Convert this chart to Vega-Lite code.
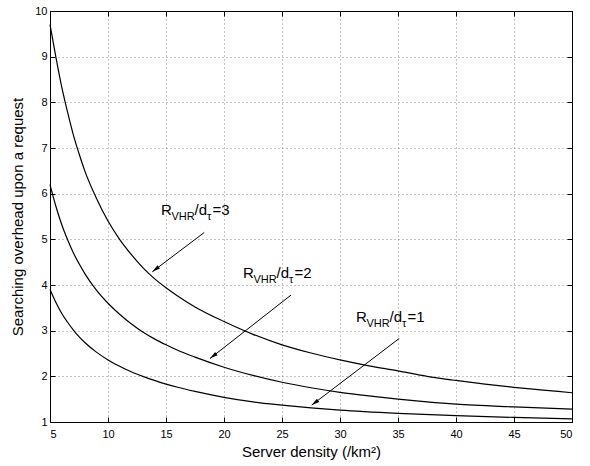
{
  "$schema": "https://vega.github.io/schema/vega-lite/v6.json",
  "width": 522,
  "height": 411,
  "autosize": {"type": "none"},
  "padding": {"left": 50, "top": 11, "right": 18, "bottom": 44},
  "background": "white",
  "config": {
    "font": "Liberation Sans",
    "view": {"stroke": "black", "strokeWidth": 1},
    "axis": {
      "domainColor": "black",
      "domainWidth": 1,
      "tickColor": "black",
      "tickSize": -5,
      "labelColor": "black",
      "labelFontSize": 11,
      "titleColor": "black",
      "titleFontSize": 15,
      "titleFontWeight": "normal",
      "gridColor": "#888888",
      "gridDash": [1, 3],
      "gridOpacity": 1
    }
  },
  "datasets": {
    "curves": [
      {"s": "3", "x": 5, "y": 9.7}, {"s": "3", "x": 5.5, "y": 9.0}, {"s": "3", "x": 6, "y": 8.35}, {"s": "3", "x": 6.5, "y": 7.8},
      {"s": "3", "x": 7, "y": 7.3}, {"s": "3", "x": 7.5, "y": 6.88}, {"s": "3", "x": 8, "y": 6.5}, {"s": "3", "x": 9, "y": 5.9},
      {"s": "3", "x": 10, "y": 5.4}, {"s": "3", "x": 11, "y": 5.0}, {"s": "3", "x": 12, "y": 4.67}, {"s": "3", "x": 13, "y": 4.38},
      {"s": "3", "x": 14, "y": 4.14}, {"s": "3", "x": 15, "y": 3.94}, {"s": "3", "x": 16, "y": 3.76}, {"s": "3", "x": 17.5, "y": 3.52},
      {"s": "3", "x": 20, "y": 3.2}, {"s": "3", "x": 22.5, "y": 2.92}, {"s": "3", "x": 25, "y": 2.69}, {"s": "3", "x": 27.5, "y": 2.51},
      {"s": "3", "x": 30, "y": 2.36}, {"s": "3", "x": 32.5, "y": 2.23}, {"s": "3", "x": 35, "y": 2.12}, {"s": "3", "x": 37.5, "y": 2.0},
      {"s": "3", "x": 40, "y": 1.91}, {"s": "3", "x": 42.5, "y": 1.83}, {"s": "3", "x": 45, "y": 1.76}, {"s": "3", "x": 47.5, "y": 1.7},
      {"s": "3", "x": 50, "y": 1.64},
      {"s": "2", "x": 5, "y": 6.2}, {"s": "2", "x": 5.5, "y": 5.73}, {"s": "2", "x": 6, "y": 5.33}, {"s": "2", "x": 6.5, "y": 5.0},
      {"s": "2", "x": 7, "y": 4.71}, {"s": "2", "x": 7.5, "y": 4.47}, {"s": "2", "x": 8, "y": 4.25}, {"s": "2", "x": 9, "y": 3.89},
      {"s": "2", "x": 10, "y": 3.6}, {"s": "2", "x": 11, "y": 3.36}, {"s": "2", "x": 12, "y": 3.15}, {"s": "2", "x": 13, "y": 2.97},
      {"s": "2", "x": 14, "y": 2.82}, {"s": "2", "x": 15, "y": 2.69}, {"s": "2", "x": 16, "y": 2.57}, {"s": "2", "x": 17.5, "y": 2.42},
      {"s": "2", "x": 20, "y": 2.2}, {"s": "2", "x": 22.5, "y": 2.02}, {"s": "2", "x": 25, "y": 1.87}, {"s": "2", "x": 27.5, "y": 1.75},
      {"s": "2", "x": 30, "y": 1.65}, {"s": "2", "x": 32.5, "y": 1.57}, {"s": "2", "x": 35, "y": 1.5}, {"s": "2", "x": 37.5, "y": 1.44},
      {"s": "2", "x": 40, "y": 1.39}, {"s": "2", "x": 45, "y": 1.33}, {"s": "2", "x": 50, "y": 1.28},
      {"s": "1", "x": 5, "y": 3.9}, {"s": "1", "x": 5.5, "y": 3.62}, {"s": "1", "x": 6, "y": 3.38}, {"s": "1", "x": 6.5, "y": 3.19},
      {"s": "1", "x": 7, "y": 3.02}, {"s": "1", "x": 7.5, "y": 2.87}, {"s": "1", "x": 8, "y": 2.74}, {"s": "1", "x": 9, "y": 2.53},
      {"s": "1", "x": 10, "y": 2.36}, {"s": "1", "x": 11, "y": 2.22}, {"s": "1", "x": 12, "y": 2.1}, {"s": "1", "x": 13, "y": 2.0},
      {"s": "1", "x": 14, "y": 1.91}, {"s": "1", "x": 15, "y": 1.83}, {"s": "1", "x": 16, "y": 1.76}, {"s": "1", "x": 17.5, "y": 1.67},
      {"s": "1", "x": 20, "y": 1.54}, {"s": "1", "x": 22.5, "y": 1.44}, {"s": "1", "x": 25, "y": 1.37}, {"s": "1", "x": 27.5, "y": 1.31},
      {"s": "1", "x": 30, "y": 1.26}, {"s": "1", "x": 35, "y": 1.19}, {"s": "1", "x": 40, "y": 1.14}, {"s": "1", "x": 45, "y": 1.1},
      {"s": "1", "x": 50, "y": 1.07}
    ],
    "labels": [
      {"x": 14.57, "y": 5.53, "v": "=3"},
      {"x": 21.64, "y": 4.16, "v": "=2"},
      {"x": 31.38, "y": 3.2, "v": "=1"}
    ],
    "arrows": [
      {"x": 18.3, "y": 5.15, "x2": 13.82, "y2": 4.29},
      {"x": 25.78, "y": 3.78, "x2": 18.79, "y2": 2.39},
      {"x": 35.11, "y": 2.83, "x2": 27.56, "y2": 1.37}
    ]
  },
  "layer": [
    {
      "data": {"name": "curves"},
      "mark": {"type": "line", "color": "black", "strokeWidth": 1.2, "interpolate": "monotone"},
      "encoding": {
        "x": {"field": "x", "type": "quantitative",
              "scale": {"domain": [5, 50], "nice": false, "zero": false},
              "axis": {"orient": "bottom", "values": [5, 10, 15, 20, 25, 30, 35, 40, 45, 50], "grid": true,
                       "labelPadding": 11, "title": "Server density (/km²)", "titlePadding": 5}},
        "y": {"field": "y", "type": "quantitative",
              "scale": {"domain": [1, 10], "nice": false, "zero": false},
              "axis": {"orient": "left", "values": [1, 2, 3, 4, 5, 6, 7, 8, 9, 10], "grid": true,
                       "labelPadding": 8, "title": "Searching overhead upon a request", "titlePadding": 9}},
        "detail": {"field": "s", "type": "nominal"}
      }
    },
    {
      "data": {"name": "arrows"},
      "mark": {"type": "rule", "color": "black", "strokeWidth": 1},
      "encoding": {
        "x": {"field": "x", "type": "quantitative",
              "axis": {"orient": "top", "values": [5, 10, 15, 20, 25, 30, 35, 40, 45, 50], "grid": false, "labels": false, "title": null}},
        "y": {"field": "y", "type": "quantitative",
              "axis": {"orient": "right", "values": [1, 2, 3, 4, 5, 6, 7, 8, 9, 10], "grid": false, "labels": false, "title": null}},
        "x2": {"field": "x2"},
        "y2": {"field": "y2"}
      }
    },
    {
      "data": {"name": "arrows"},
      "mark": {"type": "point", "shape": "M0,0L-0.5,2L0.5,2Z", "filled": true, "color": "black", "opacity": 1, "size": 64, "angle": 233},
      "encoding": {
        "x": {"field": "x2", "type": "quantitative", "axis": null},
        "y": {"field": "y2", "type": "quantitative", "axis": null}
      }
    },
    {
      "data": {"name": "labels"},
      "mark": {"type": "text", "text": "R", "align": "left", "baseline": "alphabetic", "fontSize": 15, "color": "black"},
      "encoding": {
        "x": {"field": "x", "type": "quantitative", "axis": null},
        "y": {"field": "y", "type": "quantitative", "axis": null}
      }
    },
    {
      "data": {"name": "labels"},
      "mark": {"type": "text", "text": "VHR", "align": "left", "baseline": "alphabetic", "fontSize": 11, "dx": 10.5, "dy": 5, "color": "black"},
      "encoding": {
        "x": {"field": "x", "type": "quantitative", "axis": null},
        "y": {"field": "y", "type": "quantitative", "axis": null}
      }
    },
    {
      "data": {"name": "labels"},
      "mark": {"type": "text", "text": "/d", "align": "left", "baseline": "alphabetic", "fontSize": 15, "dx": 33.5, "color": "black"},
      "encoding": {
        "x": {"field": "x", "type": "quantitative", "axis": null},
        "y": {"field": "y", "type": "quantitative", "axis": null}
      }
    },
    {
      "data": {"name": "labels"},
      "mark": {"type": "text", "text": "τ", "align": "left", "baseline": "alphabetic", "fontSize": 11, "dx": 46, "dy": 5, "color": "black"},
      "encoding": {
        "x": {"field": "x", "type": "quantitative", "axis": null},
        "y": {"field": "y", "type": "quantitative", "axis": null}
      }
    },
    {
      "data": {"name": "labels"},
      "mark": {"type": "text", "align": "left", "baseline": "alphabetic", "fontSize": 15, "dx": 51.5, "color": "black"},
      "encoding": {
        "x": {"field": "x", "type": "quantitative", "axis": null},
        "y": {"field": "y", "type": "quantitative", "axis": null},
        "text": {"field": "v", "type": "nominal"}
      }
    }
  ],
  "resolve": {"axis": {"x": "independent", "y": "independent"}}
}
